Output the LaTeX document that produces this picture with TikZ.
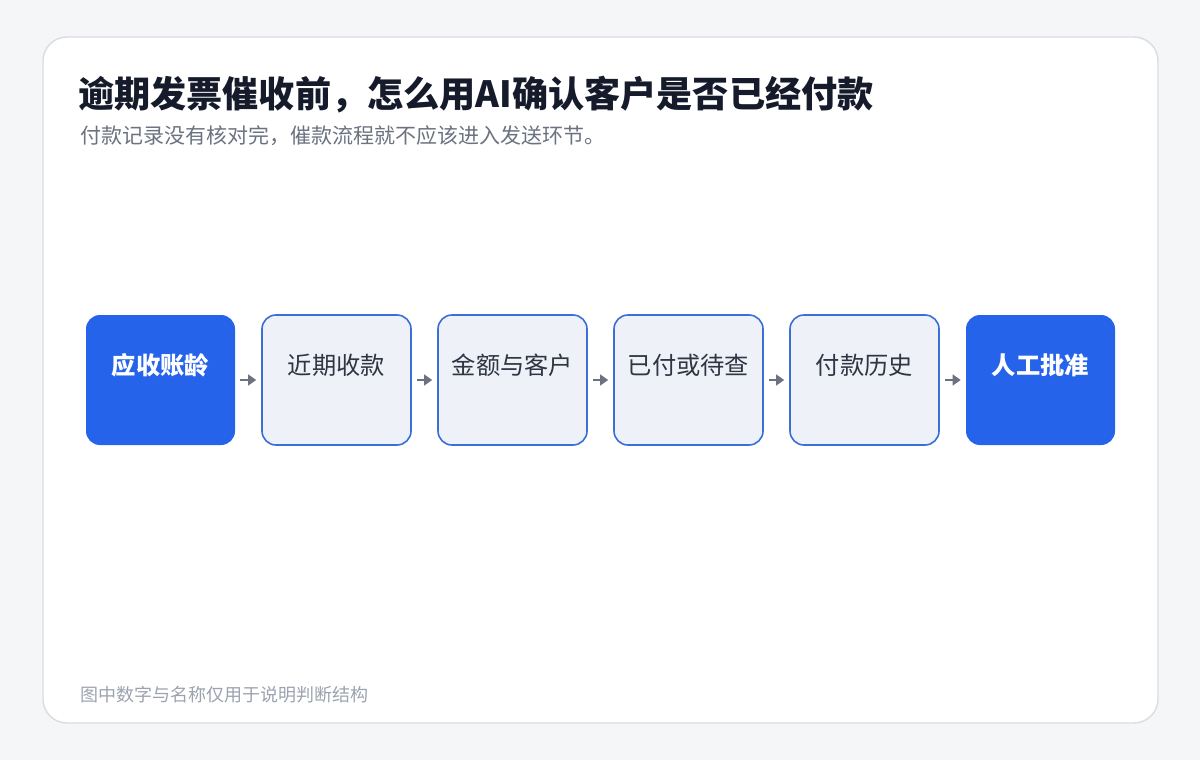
\documentclass[tikz,border=0pt]{standalone}
\usepackage{fontspec}
\setmainfont{Noto Sans CJK SC}
\usetikzlibrary{arrows.meta}
\definecolor{pagebg}{HTML}{F5F6F8}
\definecolor{cardline}{HTML}{DADDE3}
\definecolor{titleink}{HTML}{151B2B}
\definecolor{subink}{HTML}{6B7280}
\definecolor{noteink}{HTML}{9CA3AF}
\definecolor{flowblue}{HTML}{2563EB}
\definecolor{lightfill}{HTML}{EEF2F8}
\definecolor{lightline}{HTML}{3A6FD6}
\definecolor{boxink}{HTML}{2F3542}
\definecolor{arrowink}{HTML}{6B7280}

\begin{document}
\begin{tikzpicture}[
      x=0.75pt, y=-0.75pt,
      every node/.style={inner sep=0pt},
      flowbox/.style={rounded corners=10.5pt, minimum width=111.75pt, minimum height=97.5pt},
      keybox/.style={flowbox, fill=flowblue},
      checkbox/.style={flowbox, fill=lightfill, draw=lightline, line width=1.2pt},
      keytext/.style={anchor=center, yshift=-38.25pt, text=white, font=\fontsize{18.2pt}{21pt}\selectfont\bfseries},
      checktext/.style={anchor=center, yshift=-38.25pt, text=boxink, font=\fontsize{18.2pt}{21pt}\selectfont},
      flow/.style={arrowink, line width=2pt, -{Triangle[length=6pt,width=8pt]}, shorten <=3.75pt, shorten >=3.75pt}
    ]
      % page and card
      \fill[pagebg] (0,0) rectangle (1200,760);
      \useasboundingbox (0,0) rectangle (1200,760);
      \draw[cardline, fill=white, line width=1.1pt, rounded corners=18pt] (43,37) rectangle (1158,723);

      % headings
      \node[anchor=west, text=titleink, font=\fontsize{27.1pt}{31pt}\selectfont\bfseries] (title) at (78,95)
        {逾期发票催收前，怎么用AI确认客户是否已经付款};
      \node[anchor=west, text=subink, font=\fontsize{15.75pt}{18pt}\selectfont] (subtitle) at (80,136)
        {付款记录没有核对完，催款流程就不应该进入发送环节。};

      % steps
      \node[keybox, label={[keytext]north:应收账龄}] (aging) at (160.5,380) {};
      \node[checkbox, label={[checktext]north:近期收款}] (recent) at (336.5,380) {};
      \node[checkbox, label={[checktext]north:金额与客户}] (amount) at (512.5,380) {};
      \node[checkbox, label={[checktext]north:已付或待查}] (status) at (688.5,380) {};
      \node[checkbox, label={[checktext]north:付款历史}] (history) at (864.5,380) {};
      \node[keybox, label={[keytext]north:人工批准}] (approve) at (1040.5,380) {};

      \draw[flow] (aging) -- (recent);
      \draw[flow] (recent) -- (amount);
      \draw[flow] (amount) -- (status);
      \draw[flow] (status) -- (history);
      \draw[flow] (history) -- (approve);

      % footnote
      \node[anchor=west, text=noteink, font=\fontsize{13.5pt}{16pt}\selectfont] (note) at (80,695)
        {图中数字与名称仅用于说明判断结构};
    \end{tikzpicture}
\end{document}
